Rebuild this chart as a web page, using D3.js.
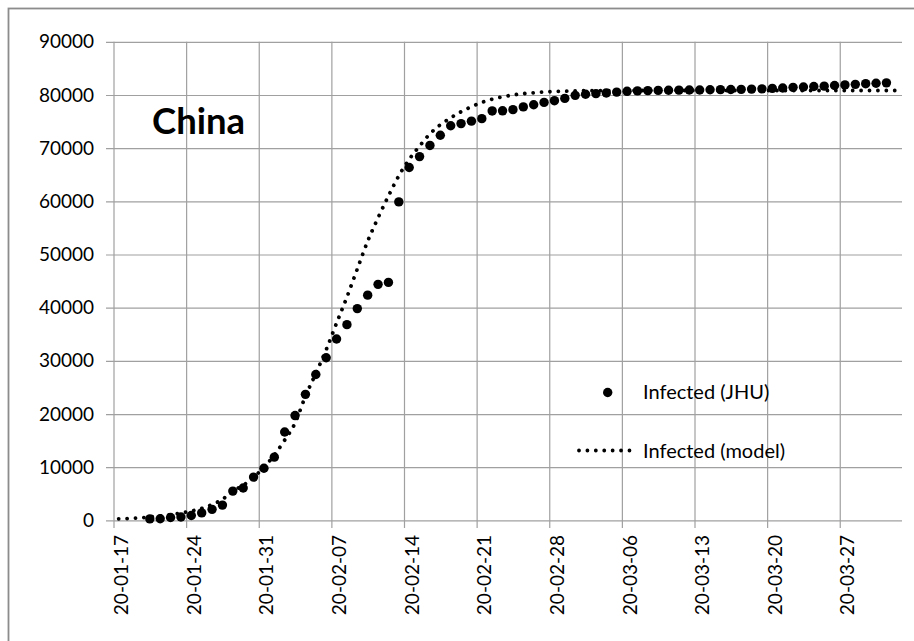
<!DOCTYPE html>
<html>
<head>
<meta charset="utf-8">
<script src="https://cdn.jsdelivr.net/npm/d3@7"></script>
<style>
  html, body { margin: 0; padding: 0; background: #fff; }
  svg { display: block; }
  text { font-family: Lato, "Open Sans", sans-serif; fill: #000; }
</style>
</head>
<body>
<svg id="chart" width="914" height="641"></svg>
<script>
// Confirmed cases in China (JHU CSSE), one value per day from 2020-01-20
const jhuStart = "2020-01-20";
const jhuValues = [
  278, 309, 548, 643, 920, 1406, 2075, 2877, 5509, 6087, 8141, 9802,
  11891, 16630, 19716, 23707, 27440, 30587, 34110, 36814, 39829, 42354,
  44386, 44759, 59895, 66358, 68413, 70513, 72434, 74211, 74619, 75077,
  75550, 77001, 77022, 77241, 77754, 78166, 78600, 78928, 79356,
  79932, 80136, 80261, 80386, 80537, 80690, 80770, 80823, 80860, 80887,
  80921, 80932, 80945, 80977, 81003, 81033, 81058, 81102, 81156, 81250,
  81305, 81435, 81498, 81591, 81661, 81782, 81897, 81999, 82122, 82198,
  82279
];

// Model output (cumulative infected), one value per day from 2020-01-17
const modelStart = "2020-01-17";
const modelValues = [
  300, 340, 470, 640, 840, 1080, 1380, 1760, 2250, 3000, 3950, 5550,
  6600, 8100, 10000, 12300, 15100, 18300, 23350, 27650, 32100, 37100,
  42000, 47300, 52500, 56900, 61000, 64800, 67900, 70400, 72700, 74400,
  75700, 76850, 77800, 78600, 79200, 79650, 80000, 80250, 80420, 80550,
  80650, 80720, 80770, 80800, 80810, 80820, 80830, 80830, 80840, 80840,
  80840, 80840, 80840, 80840, 80840, 80840, 80840, 80840, 80840, 80840,
  80840, 80840, 80840, 80840, 80840, 80840, 80840, 80840, 80840, 80840,
  80840, 80840, 80840, 80840
];

// Axis ticks
const xTickDates = ["2020-01-17", "2020-01-24", "2020-01-31", "2020-02-07",
  "2020-02-14", "2020-02-21", "2020-02-28", "2020-03-06", "2020-03-13",
  "2020-03-20", "2020-03-27"];
const yTicks = [0, 10000, 20000, 30000, 40000, 50000, 60000, 70000, 80000, 90000];

const title = "China";
const seriesNames = ["Infected (JHU)", "Infected (model)"];

const parse = d3.utcParse("%Y-%m-%d");
const fmtTick = d3.utcFormat("%y-%m-%d");

// Plot geometry
const plot = { left: 113.5, right: 902, top: 41.8, bottom: 520.4 };
const gridColor = "#a0a0a0";

const svg = d3.select("#chart");

// Outer frame (only the top and left edges fall inside the page)
svg.append("rect")
  .attr("x", 8.5).attr("y", 8.5)
  .attr("width", 1000).attr("height", 1000)
  .attr("fill", "none").attr("stroke", "#8c8c8c").attr("stroke-width", 1.8);

const x = d3.scaleUtc()
  .domain([parse("2020-01-17"), parse("2020-04-02")])
  .range([plot.left, plot.right]);
const y = d3.scaleLinear().domain([0, 90000]).range([plot.bottom, plot.top]);

const halfDay = 12 * 3600 * 1000;
const xc = d => x(new Date(d.getTime() + halfDay)); // points sit in the middle of their day

// Horizontal gridlines with outside tick marks and labels
const yAxis = svg.append("g")
  .attr("transform", `translate(${plot.left - 7.5},0)`)
  .call(d3.axisLeft(y).tickValues(yTicks).tickFormat(d3.format("d"))
    .tickSize(-(plot.right - plot.left + 7.5)).tickPadding(12));
yAxis.select(".domain").remove();
yAxis.selectAll(".tick line").attr("stroke", gridColor).attr("stroke-width", 1.2);
yAxis.selectAll(".tick text").attr("font-size", 19).attr("font-family", "Lato").attr("fill", "#000");

// Vertical gridlines, extended below the baseline as tick marks
const xGrid = svg.append("g")
  .attr("transform", `translate(0,${plot.bottom + 7.5})`)
  .call(d3.axisBottom(x).tickValues(xTickDates.map(parse))
    .tickSize(-(plot.bottom + 7.5 - plot.top)).tickFormat(""));
xGrid.select(".domain").remove();
xGrid.selectAll(".tick line").attr("stroke", gridColor).attr("stroke-width", 1.2);

// Date labels, rotated, centred on their day
const xLab = svg.append("g")
  .attr("transform", `translate(0,${plot.bottom + 14.5})`)
  .call(d3.axisBottom(x)
    .tickValues(xTickDates.map(s => new Date(parse(s).getTime() + halfDay)))
    .tickSize(0).tickFormat(fmtTick));
xLab.select(".domain").remove();
xLab.selectAll(".tick text")
  .attr("font-size", 19).attr("font-family", "Lato").attr("fill", "#000")
  .attr("y", 0).attr("dy", null)
  .attr("x", 0)
  .attr("transform", "translate(1.5,0) rotate(-90)")
  .attr("text-anchor", "end")
  .attr("dominant-baseline", "central");

// Series data
const jhu = jhuValues.map((v, i) => ({ date: d3.utcDay.offset(parse(jhuStart), i), value: v }));
const model = modelValues.map((v, i) => ({ date: d3.utcDay.offset(parse(modelStart), i), value: v }));

const dotR = 4.7;
svg.append("g").selectAll("circle").data(jhu).join("circle")
  .attr("cx", d => xc(d.date))
  .attr("cy", d => y(d.value))
  .attr("r", dotR)
  .attr("fill", "#000");

const dotted = { stroke: "#000", width: 3.8, dash: "0.01 8.4" };
const line = d3.line().x(d => xc(d.date)).y(d => y(d.value)).curve(d3.curveMonotoneX);
svg.append("path")
  .datum(model)
  .attr("d", line)
  .attr("fill", "none")
  .attr("stroke", dotted.stroke)
  .attr("stroke-width", dotted.width)
  .attr("stroke-linecap", "round")
  .attr("stroke-dasharray", dotted.dash);

// Title
svg.append("text")
  .attr("x", 152).attr("y", 133.5)
  .attr("font-size", 36.5).attr("font-weight", "bold")
  .text(title);

// Legend
const legend = svg.append("g");
legend.append("circle").attr("cx", 607.7).attr("cy", 392.5).attr("r", dotR).attr("fill", "#000");
legend.append("text").attr("x", 643).attr("y", 399).attr("font-size", 20).text(seriesNames[0]);
legend.append("line")
  .attr("x1", 579).attr("x2", 632).attr("y1", 450.5).attr("y2", 450.5)
  .attr("stroke", dotted.stroke).attr("stroke-width", dotted.width)
  .attr("stroke-linecap", "round").attr("stroke-dasharray", dotted.dash);
legend.append("text").attr("x", 643).attr("y", 458).attr("font-size", 20).text(seriesNames[1]);
</script>
</body>
</html>
